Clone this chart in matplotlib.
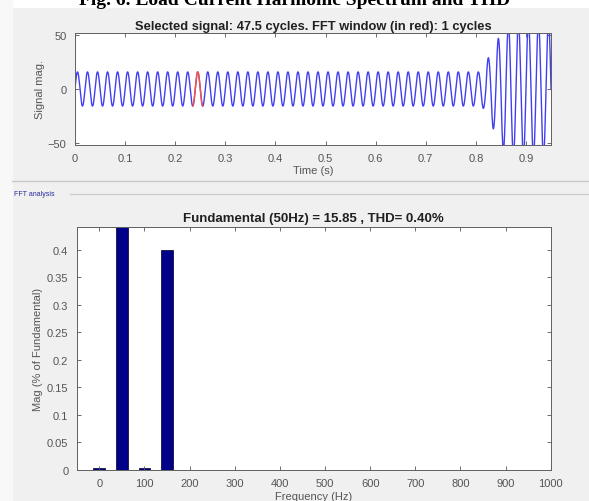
import numpy as np
import matplotlib.pyplot as plt
from matplotlib.patches import Rectangle

plt.rcParams['font.family'] = ['Liberation Sans', 'DejaVu Sans']

# ---- signal data ----
f0 = 50  # Hz
base_amp = 15.85
half_cycles_total = 95                 # 47.5 cycles
steady_half_cycles = 81                # steady part until 0.81 s
transient_amps = [18, 29, 37, 47, 57, 60, 62, 62, 62, 62, 62, 62, 62, 62]
window_start, window_end = 0.235, 0.255

# ---- spectrum data (% of fundamental) ----
harm_freq = np.arange(0, 1001, 50)
harm_mag = [0.003, 100, 0.003, 0.40, 0.0008, 0.0005, 0.0004, 0.0003, 0.0003,
            0.0002, 0.0002, 0.0002, 0.0002, 0.0002, 0.0002, 0.0002, 0.0002,
            0.0002, 0.0002, 0.0002, 0.0002]

amps = [base_amp] * steady_half_cycles + transient_amps
t = np.linspace(0, half_cycles_total / (2 * f0), 4000)
k = np.minimum((t * 2 * f0).astype(int), len(amps) - 1)
sig = np.array(amps)[k] * np.sin(2 * np.pi * f0 * t)

fig = plt.figure(figsize=(5.89, 5.02), dpi=100, facecolor='#f0f0f0')

# page strips (white) around the screenshot
fig.patches.append(Rectangle((0, 1 - 8 / 502), 1, 8 / 502, transform=fig.transFigure,
                             color='white', zorder=0))
fig.patches.append(Rectangle((0, 0), 12 / 589, 1, transform=fig.transFigure,
                             color='#f8f8f8', zorder=0))
fig.text(0.5, 1 - 5 / 502, 'Fig. 6. Load Current Harmonic Spectrum and THD',
         ha='center', va='baseline', fontsize=14, fontweight='bold',
         family='Liberation Serif')

# panel separators
fig.add_artist(plt.Line2D([12 / 589, 1], [1 - 182 / 502] * 2, color='#c8c8c8', lw=1))
fig.add_artist(plt.Line2D([70 / 589, 1], [1 - 195 / 502] * 2, color='#c8c8c8', lw=0.8))
fig.text(14 / 589, 1 - 195 / 502, 'FFT analysis', fontsize=5, color='#2a2aa0', va='center')

tick_color = '#555555'

# ---- top: time signal ----
ax1 = fig.add_axes([0.1273, 0.7092, 0.8082, 0.2231])
ax1.plot(t, sig, color='#4040f0', lw=1.0)
m = (t >= window_start) & (t <= window_end)
ax1.plot(t[m], sig[m], color='#ff5040', lw=1.0)
ax1.set_xlim(0, 0.95)
ax1.set_ylim(-52, 52)
ax1.set_xticks(np.arange(0, 0.91, 0.1))
ax1.set_xticklabels(['0', '0.1', '0.2', '0.3', '0.4', '0.5', '0.6', '0.7', '0.8', '0.9'])
ax1.set_yticks([-50, 0, 50])
ax1.set_title('Selected signal: 47.5 cycles. FFT window (in red): 1 cycles',
              fontsize=9.3, fontweight='bold', pad=3, color='#202020')
ax1.set_xlabel('Time (s)', fontsize=8, color=tick_color, labelpad=1)
ax1.set_ylabel('Signal mag.', fontsize=8, color=tick_color, labelpad=2)

# ---- bottom: spectrum ----
ax2 = fig.add_axes([0.1302, 0.0618, 0.8048, 0.4846])
ax2.bar(harm_freq, harm_mag, width=26, color='#000088', edgecolor='#101040', lw=0.6)
ax2.set_xlim(-50, 1000)
ax2.set_ylim(0, 0.442)
ax2.set_xticks(np.arange(0, 1001, 100))
ax2.set_yticks(np.arange(0, 0.41, 0.05))
ax2.set_yticklabels(['0', '0.05', '0.1', '0.15', '0.2', '0.25', '0.3', '0.35', '0.4'])
ax2.set_title('Fundamental (50Hz) = 15.85 , THD= 0.40%', fontsize=9.5,
              fontweight='bold', pad=4, color='#202020')
ax2.set_xlabel('Frequency (Hz)', fontsize=8, color=tick_color, labelpad=2)
ax2.set_ylabel('Mag (% of Fundamental)', fontsize=8, color=tick_color, labelpad=3)

for ax in (ax1, ax2):
    ax.set_facecolor('white')
    ax.tick_params(direction='in', length=3, width=0.6, labelsize=8,
                   colors=tick_color, top=True, right=True, pad=6)
    for s in ax.spines.values():
        s.set_color('#606060')
        s.set_linewidth(0.7)

fig.savefig('out.png', dpi=100, facecolor=fig.get_facecolor())
